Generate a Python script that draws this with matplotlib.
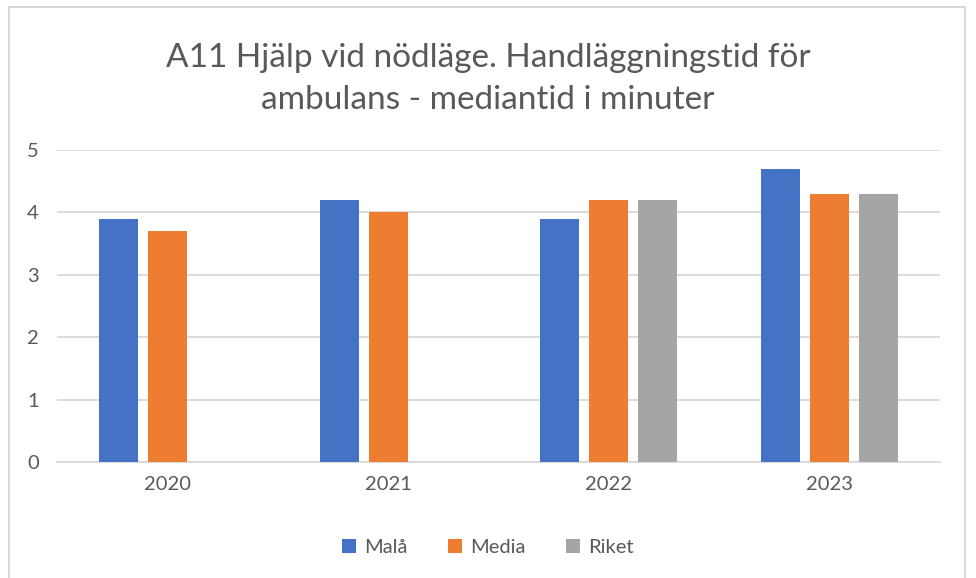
import matplotlib.pyplot as plt
import numpy as np

plt.rcParams['font.family'] = ['Lato', 'DejaVu Sans']

years = ['2020', '2021', '2022', '2023']
mala = [3.9, 4.2, 3.9, 4.7]
media = [3.7, 4.0, 4.2, 4.3]
riket = [np.nan, np.nan, 4.2, 4.3]

colors = ['#4472C4', '#ED7D31', '#A5A5A5']
text_color = '#595959'

fig = plt.figure(figsize=(9.76, 5.78), dpi=100)
ax = fig.add_axes([0.0584, 0.2007, 0.9046, 0.5398])

x = np.arange(len(years))
pitch = 0.222
width = 0.176
ax.bar(x - pitch, mala, width, color=colors[0], label='Malå', zorder=3)
ax.bar(x, media, width, color=colors[1], label='Media', zorder=3)
ax.bar(x + pitch, riket, width, color=colors[2], label='Riket', zorder=3)

ax.set_xlim(-0.5, 3.5)
ax.set_ylim(0, 5)
ax.set_yticks(range(6))
ax.set_xticks(x)
ax.set_xticklabels(years)
ax.yaxis.grid(True, color='#D9D9D9', linewidth=1.3, zorder=0)
for s in ['top', 'right', 'left']:
    ax.spines[s].set_visible(False)
ax.spines['bottom'].set_color('#D9D9D9')
ax.spines['bottom'].set_linewidth(1.3)
ax.tick_params(axis='both', length=0, labelsize=14.5, colors=text_color)
ax.tick_params(axis='y', pad=13)
ax.tick_params(axis='x', pad=10)

fig.text(0.5, 0.925, 'A11 Hjälp vid nödläge. Handläggningstid för\nambulans - mediantid i minuter',
         ha='center', va='top', fontsize=24, color=text_color, linespacing=1.5)

ax.legend(loc='center', bbox_to_anchor=(0.5, 0.052), bbox_transform=fig.transFigure,
          ncol=3, frameon=False, fontsize=14.5, labelcolor=text_color,
          handlelength=0.7, handleheight=0.7, handletextpad=0.4, columnspacing=2.0)

border = plt.Rectangle((0.009, -0.01), 0.98, 0.998, transform=fig.transFigure,
                       fill=False, edgecolor='#D9D9D9', linewidth=1.5)
fig.patches.append(border)

fig.savefig('out.png', dpi=100)
